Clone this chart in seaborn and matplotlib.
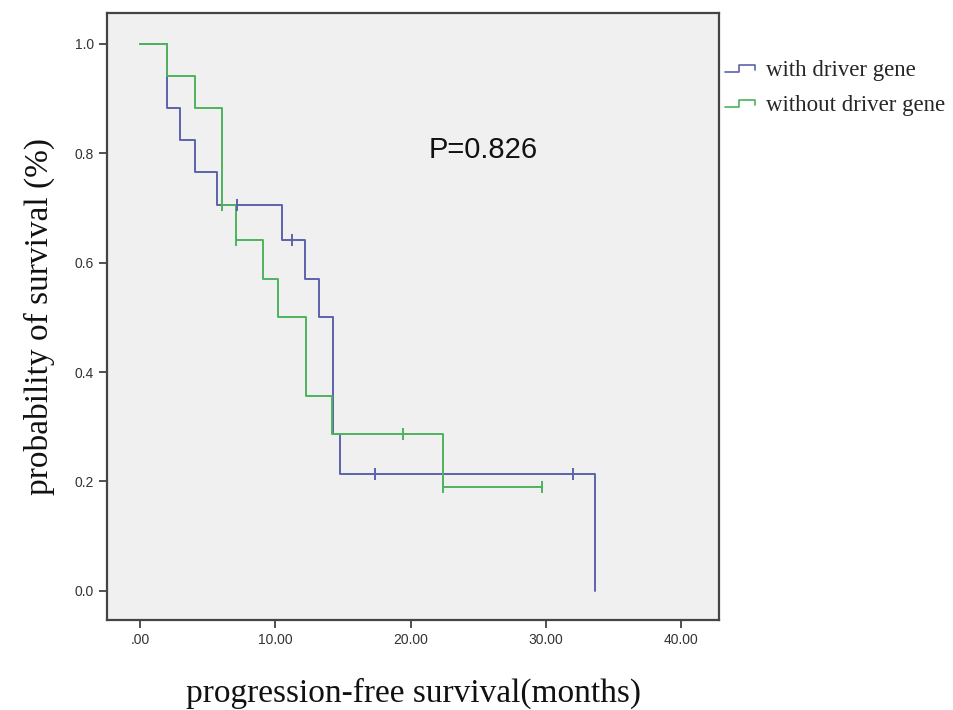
import matplotlib
matplotlib.use("Agg")
import matplotlib.pyplot as plt
import seaborn as sns
import pandas as pd
from matplotlib.lines import Line2D
from matplotlib.legend_handler import HandlerBase

# ---- data ----
blue_time = [0, 2.0, 3.0, 4.1, 5.7, 10.5, 12.2, 13.2, 14.3, 14.8, 33.6]
blue_surv = [1.0, 0.882, 0.824, 0.765, 0.706, 0.642, 0.571, 0.500, 0.286, 0.214, 0.0]
blue_cens_t = [7.2, 11.2, 17.4, 32.0]
blue_cens_s = [0.706, 0.642, 0.214, 0.214]

green_time = [0, 2.0, 4.1, 6.1, 7.1, 9.1, 10.2, 12.3, 14.2, 22.4, 29.7]
green_surv = [1.0, 0.941, 0.882, 0.706, 0.642, 0.571, 0.500, 0.357, 0.286, 0.190, 0.190]
green_cens_t = [6.1, 7.1, 19.4, 22.4, 29.7]
green_cens_s = [0.706, 0.642, 0.286, 0.190, 0.190]

group_labels = ["with driver gene", "without driver gene"]
x_ticks = [0, 10, 20, 30, 40]
x_tick_labels = [".00", "10.00", "20.00", "30.00", "40.00"]
y_ticks = [0.0, 0.2, 0.4, 0.6, 0.8, 1.0]
y_tick_labels = ["0.0", "0.2", "0.4", "0.6", "0.8", "1.0"]
p_text = "P=0.826"

BLUE = "#5c63ad"
GREEN = "#4db35c"

sns.set_theme(style="white")
plt.rcParams["font.family"] = ["Liberation Sans", "DejaVu Sans"]

fig = plt.figure(figsize=(9.54, 7.10), dpi=100)
ax = fig.add_axes([0.112, 0.127, 0.642, 0.855])
ax.set_facecolor("#f0f0f0")

series = [
    (blue_time, blue_surv, blue_cens_t, blue_cens_s, BLUE, group_labels[0]),
    (green_time, green_surv, green_cens_t, green_cens_s, GREEN, group_labels[1]),
]
for t, s, ct, cs, col, lab in series:
    df = pd.DataFrame({"t": t, "s": s})
    sns.lineplot(data=df, x="t", y="s", ax=ax, color=col, linewidth=1.4,
                 drawstyle="steps-post", estimator=None, sort=False, legend=False)
    dc = pd.DataFrame({"t": ct, "s": cs})
    sns.scatterplot(data=dc, x="t", y="s", ax=ax, color=col, marker="|",
                    s=80, linewidth=1.4, legend=False, zorder=3)

ax.set_xlim(-2.44, 42.8)
ax.set_ylim(-0.053, 1.057)
ax.set_xticks(x_ticks)
ax.set_xticklabels(x_tick_labels)
ax.set_yticks(y_ticks)
ax.set_yticklabels(y_tick_labels)
ax.tick_params(axis="both", which="major", direction="out", length=6, width=1.2,
               color="#333333", labelsize=10, labelcolor="#333333", left=True, bottom=True)
for sp in ax.spines.values():
    sp.set_color("#444444")
    sp.set_linewidth(1.6)

ax.set_xlabel("progression-free survival(months)", family=["Liberation Serif", "DejaVu Serif"],
              fontsize=24, labelpad=22, color="#111111")
ax.set_ylabel("probability of survival (%)", family=["Liberation Serif", "DejaVu Serif"],
              fontsize=24, labelpad=14, color="#111111")

ax.text(21.3, 0.806, p_text, fontsize=21, ha="left", va="center", color="#111111")


class StepHandler(HandlerBase):
    def create_artists(self, legend, orig_handle, xdescent, ydescent, width,
                       height, fontsize, trans):
        w = width
        h = height
        xs = [-xdescent, -xdescent + 0.45 * w, -xdescent + 0.45 * w, -xdescent + w, -xdescent + w]
        ys = [-ydescent + 0.25 * h, -ydescent + 0.25 * h, -ydescent + 0.7 * h,
              -ydescent + 0.7 * h, -ydescent + 0.4 * h]
        ln = Line2D(xs, ys, color=orig_handle.get_color(), linewidth=1.2, transform=trans)
        return [ln]


handles = [Line2D([], [], color=BLUE), Line2D([], [], color=GREEN)]
leg = ax.legend(handles, group_labels, loc="upper left", bbox_to_anchor=(1.01, 0.922),
                frameon=False, handler_map={Line2D: StepHandler()},
                prop={"family": ["Liberation Serif", "DejaVu Serif"], "size": 16.5},
                handlelength=1.3, handletextpad=0.45, labelspacing=0.6,
                borderpad=0.0, borderaxespad=0.0)

fig.savefig("out.png", dpi=100, facecolor="white")
